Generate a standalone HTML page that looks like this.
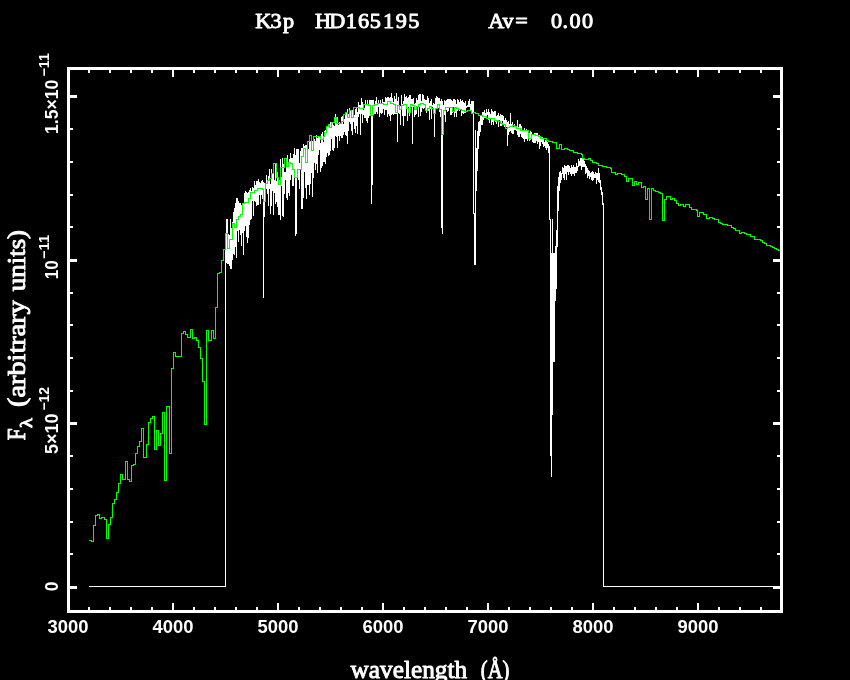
<!DOCTYPE html>
<html lang="en"><head><meta charset="utf-8"><title>K3p HD165195</title>
<style>
html,body{margin:0;padding:0;background:#000;}
body{width:850px;height:680px;overflow:hidden;position:relative;}
svg{position:absolute;left:0;top:0;display:block;}
.ser{font-family:"Liberation Serif",serif;fill:#fff;}
.san{font-family:"Liberation Sans",sans-serif;font-weight:bold;fill:#fff;stroke:none;}
</style></head><body>
<svg width="850" height="680" viewBox="0 0 850 680">
<rect x="0" y="0" width="850" height="680" fill="#000"/>
<g id="spec" fill="none" stroke="#ffffff" stroke-width="1" shape-rendering="crispEdges"><path d="M225.5 250V587M226.5 219V263M227.5 219V264M228.5 234V264M229.5 235V266M230.5 219V269M231.5 228V269M232.5 222V260M233.5 212V254M234.5 208V255M235.5 203V247M236.5 198V258M237.5 198V231M238.5 201V242M239.5 203V230M240.5 203V235M241.5 205V246M242.5 204V233M243.5 203V255M244.5 193V231M245.5 191V226M246.5 192V237M247.5 193V243M248.5 192V238M249.5 190V225M250.5 188V220M251.5 191V219M252.5 187V201M253.5 188V216M254.5 181V201M255.5 185V202M256.5 181V206M257.5 181V205M258.5 179V205M259.5 182V195M260.5 183V204M261.5 181V195M262.5 180V199M263.5 182V298M264.5 183V217M265.5 183V194M266.5 175V189M267.5 182V194M268.5 176V206M269.5 169V189M270.5 184V214M271.5 169V206M272.5 174V191M273.5 173V215M274.5 180V193M275.5 163V204M276.5 181V202M277.5 172V207M278.5 178V215M279.5 180V215M280.5 159V220M281.5 177V186M282.5 158V216M283.5 164V217M284.5 172V194M285.5 172V180M286.5 161V198M287.5 155V200M288.5 164V193M289.5 159V196M290.5 153V180M291.5 158V175M292.5 158V186M293.5 154V186M294.5 148V172M295.5 155V236M296.5 149V234M297.5 149V176M298.5 149V180M299.5 163V189M300.5 151V169M301.5 148V209M302.5 148V209M303.5 144V198M304.5 146V172M305.5 145V188M306.5 145V199M307.5 156V185M308.5 149V185M309.5 139V195M310.5 141V184M311.5 144V173M312.5 141V197M313.5 139V178M314.5 139V163M315.5 141V170M316.5 135V164M317.5 138V173M318.5 137V155M319.5 137V150M320.5 143V172M321.5 134V168M322.5 132V166M323.5 142V162M324.5 131V162M325.5 130V164M326.5 129V157M327.5 127V153M328.5 126V156M329.5 125V155M330.5 122V151M331.5 128V139M332.5 122V150M333.5 125V151M334.5 126V148M335.5 114V136M336.5 120V137M337.5 117V148M338.5 125V136M339.5 122V141M340.5 123V136M341.5 117V138M342.5 116V138M343.5 124V135M344.5 119V132M345.5 113V135M346.5 113V136M347.5 109V144M348.5 114V131M349.5 108V122M350.5 110V124M351.5 112V131M352.5 110V135M353.5 117V122M354.5 115V129M355.5 109V133M356.5 107V126M357.5 112V134M358.5 102V117M359.5 105V114M360.5 105V135M361.5 98V114M362.5 102V123M363.5 110V115M364.5 108V118M365.5 100V118M366.5 104V121M367.5 100V123M368.5 104V118M369.5 100V116M370.5 100V110M371.5 100V204M372.5 100V185M373.5 100V115M374.5 105V114M375.5 101V114M376.5 97V112M377.5 104V114M378.5 100V107M379.5 104V117M380.5 100V113M381.5 104V114M382.5 99V113M383.5 102V109M384.5 102V115M385.5 97V110M386.5 98V110M387.5 97V117M388.5 97V114M389.5 98V116M390.5 97V121M391.5 93V115M392.5 98V114M393.5 102V115M394.5 96V114M395.5 99V114M396.5 93V114M397.5 101V142M398.5 97V113M399.5 105V114M400.5 106V125M401.5 95V110M402.5 104V116M403.5 101V126M404.5 94V116M405.5 97V116M406.5 96V108M407.5 98V121M408.5 97V107M409.5 95V116M410.5 95V110M411.5 99V107M412.5 99V144M413.5 98V107M414.5 104V117M415.5 103V115M416.5 98V114M417.5 100V107M418.5 95V117M419.5 94V107M420.5 94V116M421.5 101V112M422.5 94V108M423.5 95V109M424.5 99V108M425.5 100V110M426.5 100V113M427.5 96V110M428.5 98V111M429.5 103V120M430.5 101V109M431.5 99V119M432.5 105V107M433.5 103V113M434.5 104V137M435.5 98V114M436.5 96V109M437.5 97V109M438.5 98V108M439.5 98V112M440.5 101V117M441.5 99V228M442.5 101V234M443.5 105V113M444.5 100V115M445.5 101V122M446.5 100V110M447.5 99V112M448.5 99V111M449.5 99V108M450.5 99V115M451.5 100V115M452.5 101V113M453.5 99V107M454.5 99V117M455.5 100V113M456.5 104V117M457.5 99V111M458.5 100V110M459.5 102V111M460.5 99V109M461.5 101V116M462.5 100V113M463.5 102V114M464.5 103V113M465.5 101V113M466.5 106V108M467.5 105V107M468.5 101V107M469.5 99V107M470.5 104V110M471.5 101V110M472.5 101V114M473.5 101V214M474.5 213V265M475.5 130V265M476.5 148V191M477.5 131V171M478.5 122V149M479.5 121V136M480.5 116V132M481.5 115V125M482.5 112V125M483.5 112V120M484.5 110V118M485.5 113V118M486.5 109V118M487.5 112V115M488.5 109V120M489.5 112V123M490.5 114V118M491.5 109V125M492.5 111V122M493.5 112V125M494.5 111V120M495.5 111V122M496.5 116V124M497.5 115V120M498.5 113V127M499.5 116V120M500.5 114V126M501.5 115V126M502.5 115V121M503.5 116V125M504.5 120V127M505.5 118V126M506.5 120V127M507.5 122V146M508.5 121V135M509.5 124V132M510.5 113V131M511.5 124V133M512.5 122V134M513.5 127V134M514.5 124V130M515.5 126V130M516.5 127V131M517.5 120V135M518.5 127V137M519.5 124V137M520.5 124V134M521.5 126V137M522.5 130V138M523.5 131V139M524.5 128V142M525.5 131V139M526.5 129V139M527.5 130V141M528.5 130V135M529.5 133V141M530.5 131V140M531.5 132V137M532.5 134V142M533.5 134V143M534.5 133V143M535.5 133V143M536.5 133V141M537.5 133V144M538.5 136V142M539.5 135V149M540.5 138V146M541.5 137V142M542.5 137V144M543.5 139V147M544.5 142V146M545.5 140V148M546.5 141V150M547.5 142V148M548.5 144V153M549.5 146V220M550.5 219V456M551.5 253V477M552.5 219V415M553.5 253V362M554.5 253V362M555.5 246V301M556.5 230V289M557.5 186V247M558.5 177V211M559.5 172V191M560.5 171V183M561.5 173V180M562.5 167V174M563.5 168V178M564.5 165V180M565.5 166V174M566.5 166V180M567.5 165V172M568.5 165V175M569.5 166V172M570.5 168V174M571.5 165V176M572.5 167V174M573.5 165V174M574.5 167V176M575.5 167V173M576.5 163V173M577.5 166V171M578.5 159V167M579.5 161V166M580.5 158V166M581.5 158V170M582.5 158V167M583.5 159V167M584.5 161V167M585.5 164V174M586.5 166V173M587.5 168V178M588.5 170V176M589.5 171V179M590.5 173V177M591.5 172V180M592.5 171V181M593.5 172V180M594.5 174V178M595.5 172V178M596.5 173V184M597.5 173V180M598.5 168V182M599.5 173V183M600.5 180V190M601.5 187V195M602.5 192V205M603.5 203V587M89 586.5H226M603 586.5H781"/></g>
<g id="model" fill="none" stroke="#00ff00" stroke-width="1" shape-rendering="crispEdges"><path d="M88.5 540.5H91.5V541.5H93.5V525.5H95.5V515.5H97.5V514.5H99.5V518.5H101.5V517.5H104.5V519.5H106.5V538.5H108.5V524.5H110.5V517.5H112.5V503.5H114.5V499.5H116.5V492.5H118.5V483.5H120.5V474.5H122.5V479.5H125.5V461.5H127.5V479.5H129.5V481.5H131.5V465.5H133.5V464.5H135.5V453.5H137.5V446.5H139.5V441.5H141.5V428.5H143.5V457.5H146.5V444.5H148.5V422.5H150.5V418.5H152.5V416.5H154.5V449.5H156.5V430.5H158.5V445.5H160.5V433.5H162.5V412.5H164.5V480.5H166.5V406.5H169.5V453.5H171.5V368.5H173.5V352.5H175.5V356.5H181.5V333.5H183.5V331.5H185.5V334.5H187.5V337.5H190.5V329.5H192.5V338.5H194.5V337.5H196.5V340.5H198.5V347.5H200.5V358.5H202.5V381.5H204.5V424.5H206.5V330.5H208.5V340.5H211.5V330.5H213.5V338.5H215.5V307.5H217.5V273.5H219.5V272.5H221.5V260.5H223.5V249.5H225.5V233.5H227.5V248.5H229.5V239.5H232.5V223.5H234.5V227.5H236.5V219.5H238.5V216.5H240.5V214.5H242.5V203.5H244.5V202.5H248.5V198.5H250.5V192.5H254.5V190.5H257.5V188.5H262.5V189.5H263.5V201.5H265.5V183.5H267.5V180.5H269.5V178.5H271.5V173.5H273.5V163.5H276.5V177.5H278.5V184.5H280.5V167.5H284.5V158.5H286.5V166.5H288.5V162.5H290.5V163.5H292.5V169.5H294.5V177.5H297.5V169.5H301.5V156.5H303.5V148.5H305.5V162.5H307.5V141.5H309.5V135.5H311.5V150.5H313.5V136.5H320.5V139.5H323.5V136.5H324.5V132.5H326.5V126.5H328.5V124.5H329.5V127.5H331.5V122.5H334.5V117.5H336.5V123.5H341.5V121.5H343.5V114.5H345.5V112.5H347.5V117.5H349.5V110.5H351.5V117.5H353.5V107.5H359.5V108.5H363.5V104.5H368.5V105.5H370.5V115.5H372.5V105.5H374.5V104.5H377.5V103.5H380.5V103.5H383.5V104.5H387.5V101.5H390.5V103.5H393.5V104.5H395.5V112.5H397.5V105.5H399.5V109.5H401.5V105.5H403.5V104.5H406.5V108.5H408.5V112.5H410.5V104.5H412.5V105.5H414.5V109.5H416.5V106.5H418.5V104.5H420.5V103.5H423.5V104.5H425.5V110.5H427.5V108.5H429.5V106.5H431.5V108.5H433.5V113.5H435.5V108.5H437.5V104.5H439.5V109.5H441.5V134.5H443.5V110.5H445.5V107.5H447.5V107.5H450.5V107.5H452.5V111.5H454.5V107.5H456.5V108.5H458.5V109.5H461.5V110.5H464.5V111.5H467.5V110.5H469.5V110.5H471.5V113.5H473.5V112.5H475.5V113.5H478.5V115.5H482.5V116.5H486.5V118.5H488.5V118.5H494.5V120.5H498.5V121.5H500.5V123.5H502.5V124.5H505.5V128.5H507.5V127.5H509.5V126.5H512.5V125.5H514.5V126.5H516.5V128.5H520.5V130.5H528.5V138.5H531.5V134.5H535.5V135.5H538.5V136.5H540.5V138.5H546.5V140.5H548.5V141.5H552.5V142.5H556.5V148.5H559.5V144.5H561.5V149.5H564.5V148.5H567.5V149.5H569.5V150.5H573.5V152.5H577.5V153.5H581.5V154.5H582.5V158.5H584.5V159.5H588.5V158.5H590.5V160.5H592.5V162.5H596.5V163.5H598.5V165.5H602.5V166.5H606.5V167.5H610.5V168.5H611.5V172.5H615.5V174.5H617.5V173.5H621.5V174.5H624.5V176.5H626.5V181.5H628.5V178.5H632.5V185.5H634.5V181.5H636.5V184.5H638.5V182.5H641.5V187.5H643.5V186.5H645.5V199.5H647.5V188.5H649.5V219.5H651.5V188.5H653.5V190.5H655.5V191.5H658.5V192.5H660.5V193.5H662.5V220.5H664.5V199.5H666.5V196.5H670.5V199.5H672.5V198.5H674.5V200.5H676.5V203.5H678.5V205.5H680.5V204.5H683.5V206.5H685.5V204.5H689.5V207.5H691.5V209.5H696.5V210.5H697.5V216.5H699.5V212.5H703.5V214.5H706.5V218.5H709.5V217.5H712.5V218.5H714.5V219.5H718.5V222.5H720.5V223.5H722.5V224.5H727.5V225.5H731.5V227.5H733.5V228.5H735.5V230.5H739.5V233.5H741.5V232.5H744.5V233.5H746.5V234.5H750.5V236.5H754.5V239.5H760.5V240.5H762.5V242.5H764.5V243.5H766.5V245.5H770.5V246.5H772.5V247.5H774.5V248.5H776.5V249.5H778.5V250.5H781.0"/></g>
<g id="box" fill="none" stroke="#fff" shape-rendering="crispEdges">
<rect x="68.5" y="68.5" width="713.0" height="543.0" stroke-width="3"/>
<path stroke-width="2" d="M89 68.5v4.5M89 611.5v-4.5M110 68.5v4.5M110 611.5v-4.5M131 68.5v4.5M131 611.5v-4.5M152 68.5v4.5M152 611.5v-4.5M173 68.5v8.5M173 611.5v-8.5M194 68.5v4.5M194 611.5v-4.5M215 68.5v4.5M215 611.5v-4.5M236 68.5v4.5M236 611.5v-4.5M257 68.5v4.5M257 611.5v-4.5M278 68.5v8.5M278 611.5v-8.5M299 68.5v4.5M299 611.5v-4.5M320 68.5v4.5M320 611.5v-4.5M341 68.5v4.5M341 611.5v-4.5M362 68.5v4.5M362 611.5v-4.5M383 68.5v8.5M383 611.5v-8.5M404 68.5v4.5M404 611.5v-4.5M425 68.5v4.5M425 611.5v-4.5M446 68.5v4.5M446 611.5v-4.5M467 68.5v4.5M467 611.5v-4.5M488 68.5v8.5M488 611.5v-8.5M509 68.5v4.5M509 611.5v-4.5M530 68.5v4.5M530 611.5v-4.5M551 68.5v4.5M551 611.5v-4.5M572 68.5v4.5M572 611.5v-4.5M593 68.5v8.5M593 611.5v-8.5M614 68.5v4.5M614 611.5v-4.5M635 68.5v4.5M635 611.5v-4.5M656 68.5v4.5M656 611.5v-4.5M677 68.5v4.5M677 611.5v-4.5M698 68.5v8.5M698 611.5v-8.5M719 68.5v4.5M719 611.5v-4.5M740 68.5v4.5M740 611.5v-4.5M761 68.5v4.5M761 611.5v-4.5M68.5 554h4.5M781.5 554h-4.5M68.5 522h4.5M781.5 522h-4.5M68.5 489h4.5M781.5 489h-4.5M68.5 456h4.5M781.5 456h-4.5M68.5 391h4.5M781.5 391h-4.5M68.5 358h4.5M781.5 358h-4.5M68.5 325h4.5M781.5 325h-4.5M68.5 293h4.5M781.5 293h-4.5M68.5 227h4.5M781.5 227h-4.5M68.5 195h4.5M781.5 195h-4.5M68.5 162h4.5M781.5 162h-4.5M68.5 129h4.5M781.5 129h-4.5"/>
<path stroke-width="3" d="M68.5 587.5h8.5M781.5 587.5h-8.5M68.5 423.5h8.5M781.5 423.5h-8.5M68.5 260.5h8.5M781.5 260.5h-8.5M68.5 96.5h8.5M781.5 96.5h-8.5"/>
</g>
<g id="labels" opacity="0.999" stroke="#fff" stroke-width="0.9" stroke-linejoin="round">
<text class="ser" transform="scale(1.08 1)" x="243.7 255.6 267.1" y="28.3" font-size="20.6" text-anchor="middle">K3p</text>
<text class="ser" transform="scale(1.08 1)" x="299.1 312.3 325.3 336.7 347.6 359.8 371.6 383.2" y="28.3" font-size="20.6" text-anchor="middle">HD165195</text>
<text class="ser" transform="scale(1.08 1)" x="459.5 470.5 482.9" y="28.3" font-size="20.6" text-anchor="middle">Av=</text>
<text class="ser" transform="scale(1.08 1)" x="515.3 523.4 532.4 544.0" y="28.3" font-size="20.6" text-anchor="middle">0.00</text>
<text class="san" x="47.6" y="633.0" font-size="18.8" textLength="41.0" lengthAdjust="spacingAndGlyphs">3000</text>
<text class="san" x="152.6" y="633.0" font-size="18.8" textLength="41.0" lengthAdjust="spacingAndGlyphs">4000</text>
<text class="san" x="257.6" y="633.0" font-size="18.8" textLength="41.0" lengthAdjust="spacingAndGlyphs">5000</text>
<text class="san" x="362.6" y="633.0" font-size="18.8" textLength="41.0" lengthAdjust="spacingAndGlyphs">6000</text>
<text class="san" x="467.6" y="633.0" font-size="18.8" textLength="41.0" lengthAdjust="spacingAndGlyphs">7000</text>
<text class="san" x="572.6" y="633.0" font-size="18.8" textLength="41.0" lengthAdjust="spacingAndGlyphs">8000</text>
<text class="san" x="677.6" y="633.0" font-size="18.8" textLength="41.0" lengthAdjust="spacingAndGlyphs">9000</text>
<text class="ser" x="350.6" y="677.8" font-size="24.4" textLength="116.5" lengthAdjust="spacingAndGlyphs">wavelength</text>
<text class="ser" x="480.8" y="677.8" font-size="24.4" textLength="28.6" lengthAdjust="spacingAndGlyphs">(Å)</text>
<text class="san" transform="translate(58.0 591.3) rotate(-90)" font-size="18.8" textLength="9.6" lengthAdjust="spacingAndGlyphs">0</text>
<text class="san" transform="translate(58.0 454.0) rotate(-90)" font-size="18.8" textLength="40.4" lengthAdjust="spacingAndGlyphs">5×10</text>
<text class="san" transform="translate(49.1 410.6) rotate(-90)" font-size="14.4" textLength="23.6" lengthAdjust="spacingAndGlyphs">−12</text>
<text class="san" transform="translate(58.0 279.2) rotate(-90)" font-size="18.8" textLength="19.0" lengthAdjust="spacingAndGlyphs">10</text>
<text class="san" transform="translate(49.1 258.9) rotate(-90)" font-size="14.4" textLength="23.9" lengthAdjust="spacingAndGlyphs">−11</text>
<text class="san" transform="translate(58.0 134.0) rotate(-90)" font-size="18.8" textLength="54.4" lengthAdjust="spacingAndGlyphs">1.5×10</text>
<text class="san" transform="translate(49.1 76.6) rotate(-90)" font-size="14.4" textLength="23.6" lengthAdjust="spacingAndGlyphs">−11</text>
<text class="ser" transform="translate(25.0 440.2) rotate(-90)" font-size="24.4" textLength="12.0" lengthAdjust="spacingAndGlyphs">F</text>
<text class="ser" transform="translate(32.0 428.0) rotate(-90)" font-size="17.0" textLength="10.0" lengthAdjust="spacingAndGlyphs">λ</text>
<text class="ser" transform="translate(25.0 407.0) rotate(-90)" font-size="24.4" textLength="106.8" lengthAdjust="spacingAndGlyphs">(arbitrary</text>
<text class="ser" transform="translate(25.0 291.3) rotate(-90)" font-size="24.4" textLength="61.4" lengthAdjust="spacingAndGlyphs">units)</text>
</g>
</svg>
</body></html>
